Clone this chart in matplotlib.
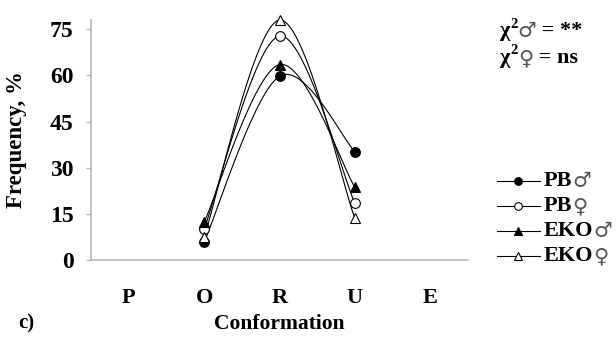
import matplotlib
matplotlib.use("Agg")
import matplotlib.pyplot as plt
from matplotlib.lines import Line2D
import numpy as np

plt.rcParams['font.family'] = ['Liberation Serif', 'DejaVu Sans']

categories = ['P', 'O', 'R', 'U', 'E']
# series only cover O, R, U
series_pos = [1, 2, 3]
pb_male = [5.8, 59.7, 35.2]
pb_female = [10.1, 72.8, 18.4]
eko_male = [12.3, 63.5, 23.6]
eko_female = [7.5, 78.0, 13.5]

series = [
    ('PB', '\u2642', pb_male, 'o', 'black'),
    ('PB', '\u2640', pb_female, 'o', 'white'),
    ('EKO', '\u2642', eko_male, '^', 'black'),
    ('EKO', '\u2640', eko_female, '^', 'white'),
]
chi_lines = [('\u2642', '**'), ('\u2640', 'ns')]


def smooth(xs, ys, n=40):
    # Catmull-Rom style bezier through the points (spreadsheet "smoothed line")
    p = np.column_stack([xs, ys]).astype(float)
    p = np.vstack([p[0], p, p[-1]])
    out = []
    for i in range(1, len(p) - 2):
        p0, p1, p2, p3 = p[i - 1], p[i], p[i + 1], p[i + 2]
        c1 = p1 + (p2 - p0) / 6.0
        c2 = p2 - (p3 - p1) / 6.0
        t = np.linspace(0, 1, n)[:, None]
        seg = ((1 - t) ** 3) * p1 + 3 * ((1 - t) ** 2) * t * c1 \
            + 3 * (1 - t) * t ** 2 * c2 + t ** 3 * p2
        out.append(seg if i == 1 else seg[1:])
    out = np.vstack(out)
    return out[:, 0], out[:, 1]


W, H = 616, 340
fig = plt.figure(figsize=(W / 100, H / 100), dpi=100)
ax = fig.add_axes([91 / W, 1 - 260 / H, 377 / W, 240 / H])

for name, sym, vals, marker, face in series:
    sx, sy = smooth(series_pos, vals)
    ax.plot(sx, sy, color='black', lw=0.8, clip_on=False, zorder=2)
    ax.plot(series_pos, vals, linestyle='none', marker=marker, ms=7,
            mfc=face, mec='black', mew=0.8, clip_on=False, zorder=3)

ax.set_xlim(-0.5, 4.5)
ax.set_ylim(0, 78)
ax.set_xticks(range(len(categories)))
ax.set_xticklabels(categories)
ax.set_yticks([0, 15, 30, 45, 60, 75])
for s in ['top', 'right']:
    ax.spines[s].set_visible(False)
for s in ['left', 'bottom']:
    ax.spines[s].set_color('#b8b8b8')
    ax.spines[s].set_linewidth(1.2)
ax.tick_params(axis='x', length=0, pad=20, labelsize=16)
ax.tick_params(axis='y', length=3.5, color='#b8b8b8', width=1.0, pad=9, labelsize=17)
for lab in ax.get_xticklabels() + ax.get_yticklabels():
    lab.set_fontweight('bold')

ax.set_ylabel('Frequency, %', fontsize=16.5, fontweight='bold')
ax.yaxis.set_label_coords(-0.17, 0.5)
ax.set_xlabel('Conformation', fontsize=15.5, fontweight='bold')
ax.xaxis.set_label_coords(0.5, -0.225)
fig.text(18 / W, 1 - 323 / H, 'c)', fontsize=15, fontweight='bold', va='center')

fig.canvas.draw()
renderer = fig.canvas.get_renderer()


def text_run(x, y, parts):
    # lay out text pieces left to right, x/y in pixels from top-left
    for s, kw in parts:
        dy = kw.pop('dy', 0)
        t = fig.text(x / W, 1 - (y + dy) / H, s, va='center', ha='left', **kw)
        x += t.get_window_extent(renderer).width
    return x


sym_kw = dict(family='DejaVu Sans', fontsize=15, color='#555555')

for i, (sym, result) in enumerate(chi_lines):
    y = 31 + i * 27
    text_run(500, y, [
        ('\u03c7', dict(fontsize=16, fontweight='bold')),
        ('2', dict(fontsize=10.5, fontweight='bold', dy=-7)),
        (sym, dict(sym_kw)),
        (' = ' + result, dict(fontsize=16, fontweight='bold')),
    ])

for i, (name, sym, vals, marker, face) in enumerate(series):
    y = 181 + i * 25
    fy = 1 - y / H
    fig.add_artist(Line2D([497 / W, 540 / W], [fy, fy], color='black', lw=0.8))
    fig.add_artist(Line2D([518 / W], [fy], marker=marker, ms=5.5, mfc=face,
                          mec='black', mew=0.8, linestyle='none'))
    text_run(544, y, [
        (name, dict(fontsize=16, fontweight='bold')),
        (sym, dict(sym_kw)),
    ])

fig.savefig('out.png', dpi=100)
